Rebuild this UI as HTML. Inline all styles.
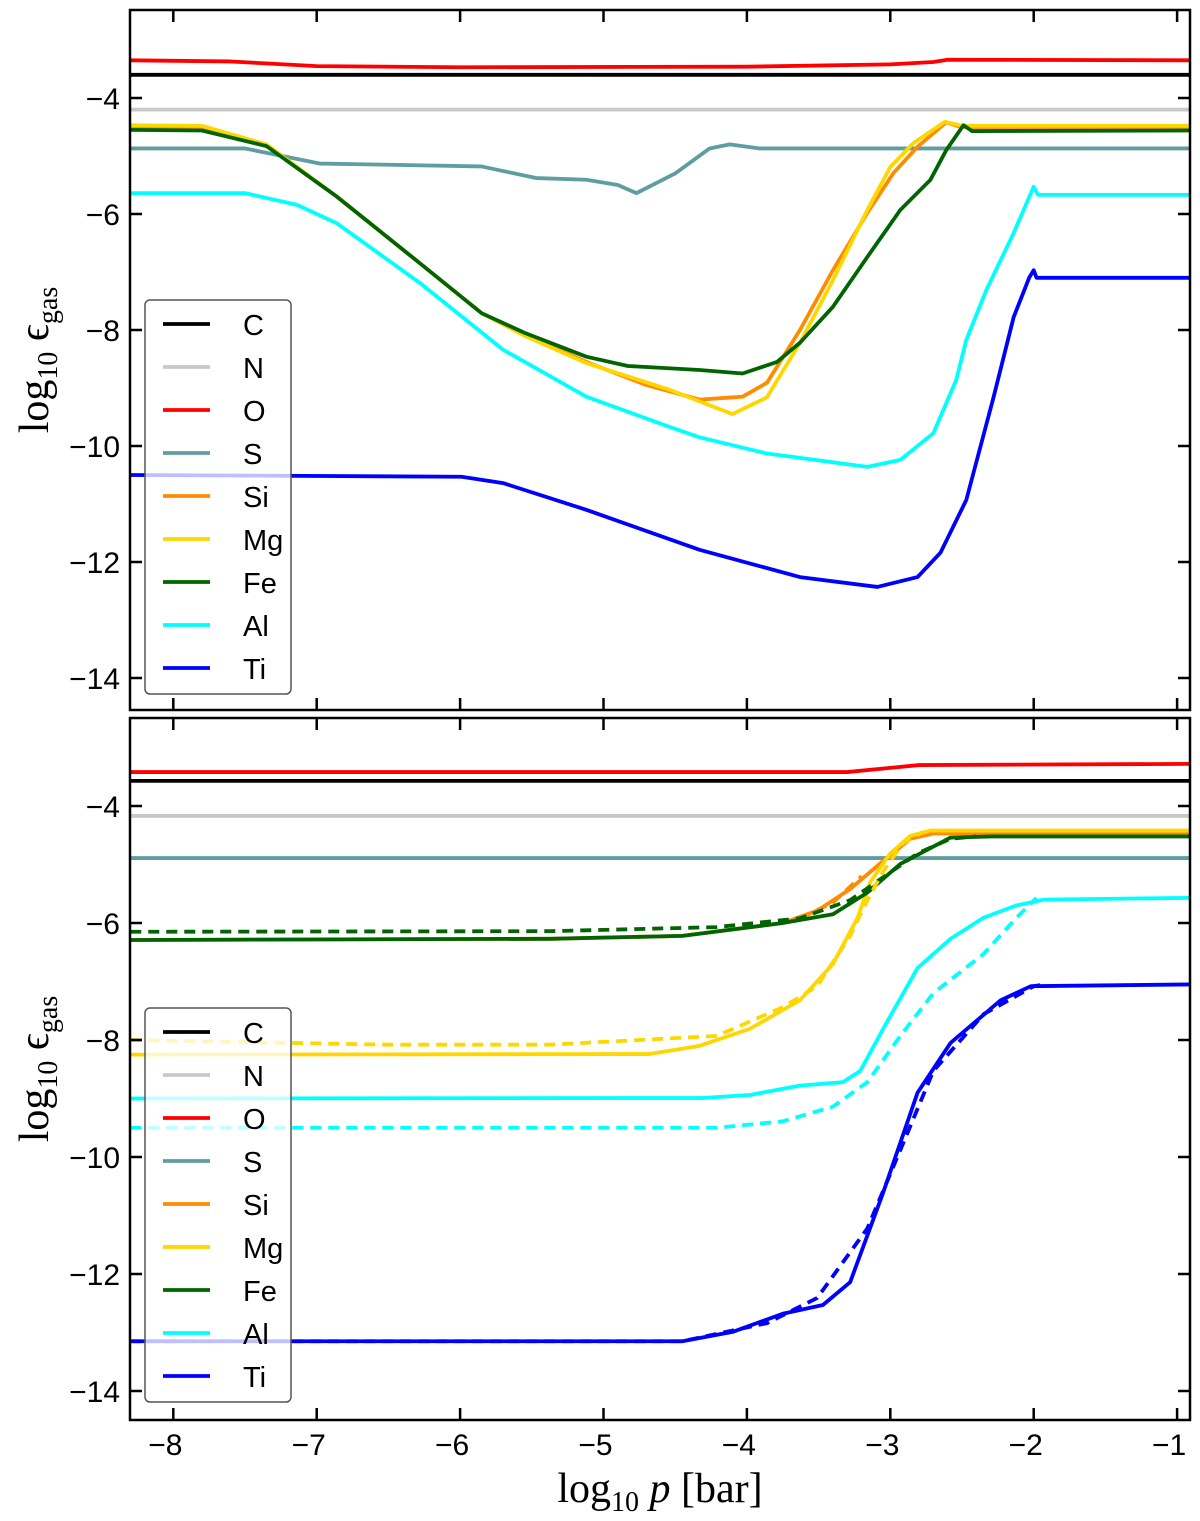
<!DOCTYPE html>
<html><head><meta charset="utf-8"><style>
body{margin:0;background:#fff}
svg{display:block}
text{font-family:"Liberation Sans",sans-serif}
</style></head><body>
<svg id="chart" width="1200" height="1521" viewBox="0 0 1200 1521"></svg>
<script>
const ticksX=[-8,-7,-6,-5,-4,-3,-2,-1];
const ticksY=[-4,-6,-8,-10,-12,-14];
const elements=["C","N","O","S","Si","Mg","Fe","Al","Ti"];
const colors={C:"#000",N:"#c8c8c8",O:"#ff0000",S:"#5f9ea0",Si:"#ff8c00",Mg:"#ffd700",Fe:"#006400",Al:"#00ffff",Ti:"#0000ff"};
// top panel series: [log p, log eps]
const topC=[[-8.3,-3.6],[-0.9,-3.6]];
const topN=[[-8.3,-4.2],[-0.9,-4.2]];
const topO=[[-8.3,-3.35],[-7.6,-3.37],[-7,-3.45],[-6,-3.47],[-4,-3.46],[-3,-3.42],[-2.7,-3.38],[-2.6,-3.34],[-0.9,-3.35]];
const topS=[[-8.3,-4.87],[-7.5,-4.87],[-6.98,-5.13],[-5.85,-5.18],[-5.47,-5.38],[-5.12,-5.41],[-4.9,-5.5],[-4.77,-5.64],[-4.5,-5.3],[-4.26,-4.87],[-4.12,-4.8],[-3.91,-4.87],[-0.9,-4.87]];
const topSi=[[-8.3,-4.49],[-7.8,-4.5],[-7.35,-4.81],[-6.86,-5.7],[-6.28,-6.85],[-5.85,-7.71],[-5.55,-8.08],[-5.12,-8.55],[-4.7,-8.95],[-4.33,-9.2],[-4.03,-9.15],[-3.86,-8.91],[-3.63,-8.0],[-3.4,-6.97],[-3.16,-5.98],[-2.98,-5.3],[-2.81,-4.84],[-2.61,-4.42],[-2.51,-4.5],[-0.9,-4.5]];
const topMg=[[-8.3,-4.47],[-7.8,-4.48],[-7.35,-4.8],[-6.86,-5.7],[-6.28,-6.85],[-5.85,-7.71],[-5.55,-8.1],[-5.12,-8.57],[-4.54,-9.03],[-4.1,-9.45],[-3.86,-9.16],[-3.63,-8.22],[-3.4,-7.14],[-3.16,-5.93],[-3.0,-5.19],[-2.84,-4.78],[-2.62,-4.41],[-2.5,-4.48],[-0.9,-4.48]];
const topFe=[[-8.3,-4.55],[-7.8,-4.56],[-7.35,-4.83],[-6.86,-5.7],[-6.28,-6.85],[-5.85,-7.71],[-5.55,-8.05],[-5.12,-8.46],[-4.83,-8.62],[-4.33,-8.69],[-4.03,-8.75],[-3.79,-8.55],[-3.63,-8.22],[-3.4,-7.6],[-3.16,-6.74],[-2.93,-5.93],[-2.72,-5.41],[-2.61,-4.9],[-2.49,-4.47],[-2.43,-4.57],[-0.9,-4.56]];
const topAl=[[-8.3,-5.64],[-7.5,-5.64],[-7.14,-5.84],[-6.86,-6.16],[-6.28,-7.19],[-5.7,-8.34],[-5.12,-9.15],[-4.54,-9.67],[-4.33,-9.85],[-3.86,-10.13],[-3.16,-10.36],[-2.93,-10.24],[-2.7,-9.78],[-2.54,-8.86],[-2.47,-8.17],[-2.33,-7.31],[-2.14,-6.33],[-2.0,-5.53],[-1.97,-5.67],[-0.9,-5.67]];
const topTi=[[-8.3,-10.5],[-5.99,-10.53],[-5.7,-10.64],[-5.12,-11.1],[-4.33,-11.79],[-3.63,-12.26],[-3.09,-12.43],[-2.81,-12.26],[-2.65,-11.84],[-2.47,-10.93],[-2.28,-9.16],[-2.14,-7.78],[-2.03,-7.09],[-2.0,-6.97],[-1.98,-7.1],[-0.9,-7.1]];
// bottom panel solid
const botC=[[-8.3,-3.57],[-0.9,-3.57]];
const botN=[[-8.3,-4.17],[-0.9,-4.17]];
const botO=[[-8.3,-3.42],[-3.3,-3.42],[-2.8,-3.3],[-0.9,-3.28]];
const botS=[[-8.3,-4.89],[-0.9,-4.89]];
const botSi=[[-8.3,-6.29],[-5.37,-6.27],[-4.45,-6.22],[-3.75,-6.0],[-3.51,-5.79],[-3.28,-5.42],[-3.05,-4.94],[-2.86,-4.56],[-2.7,-4.47],[-0.9,-4.47]];
const botMg=[[-8.3,-8.25],[-4.68,-8.24],[-4.33,-8.1],[-3.98,-7.81],[-3.63,-7.32],[-3.4,-6.7],[-3.23,-5.92],[-3.14,-5.3],[-3.0,-4.81],[-2.86,-4.51],[-2.72,-4.42],[-0.9,-4.42]];
const botFe=[[-8.3,-6.29],[-5.37,-6.27],[-4.45,-6.22],[-3.75,-6.0],[-3.4,-5.85],[-3.16,-5.48],[-2.93,-4.99],[-2.58,-4.54],[-2.3,-4.52],[-0.9,-4.52]];
const botAl=[[-8.3,-9.0],[-4.3,-8.99],[-3.98,-8.94],[-3.63,-8.78],[-3.33,-8.72],[-3.21,-8.53],[-3.05,-7.81],[-2.81,-6.77],[-2.58,-6.27],[-2.35,-5.91],[-2.12,-5.7],[-1.93,-5.6],[-0.9,-5.57]];
const botTi=[[-8.3,-13.15],[-4.45,-13.15],[-4.1,-12.99],[-3.75,-12.68],[-3.47,-12.53],[-3.28,-12.14],[-3.05,-10.61],[-2.81,-8.9],[-2.58,-8.05],[-2.23,-7.32],[-2.02,-7.08],[-0.9,-7.05]];
// bottom panel dashed
const dashSi=[[-3.63,-5.92],[-3.4,-5.65],[-3.2,-5.2]];
const dashFe=[[-8.3,-6.15],[-5.37,-6.14],[-4.21,-6.07],[-3.63,-5.92],[-3.28,-5.61],[-3.05,-5.22],[-2.81,-4.81],[-2.58,-4.56],[-2.4,-4.52]];
const dashMg=[[-8.3,-8.0],[-6.5,-8.08],[-5.37,-8.08],[-4.21,-7.93],[-3.75,-7.44],[-3.51,-7.08],[-3.28,-6.22],[-3.16,-5.61],[-3.05,-5.12],[-2.91,-4.63],[-2.77,-4.44]];
const dashAl=[[-8.3,-9.5],[-4.21,-9.5],[-3.75,-9.39],[-3.4,-9.14],[-3.16,-8.72],[-2.93,-7.93],[-2.7,-7.2],[-2.35,-6.53],[-2.12,-5.91],[-1.98,-5.57]];
const dashTi=[[-8.3,-13.15],[-4.45,-13.15],[-3.86,-12.84],[-3.51,-12.41],[-3.16,-11.22],[-2.93,-9.88],[-2.7,-8.53],[-2.35,-7.56],[-2.0,-7.08],[-1.95,-7.06]];

const NS="http://www.w3.org/2000/svg";
const svg=document.getElementById('chart');
function mk(t,a,p){const e=document.createElementNS(NS,t);for(const k in a)e.setAttribute(k,a[k]);(p||svg).appendChild(e);return e;}
const X0=130,X1=1190;
function sx(v){return 173.3+(v+8)*143.4;}
function panel(top,bottom,y4,yStep,name,solid,dashed){
  const g=mk('g',{});
  
  
  const sy=v=>y4+(-4-v)*yStep;
  const clipId='clip-'+name;
  const cp=mk('clipPath',{id:clipId},g);mk('rect',{x:X0,y:top,width:X1-X0,height:bottom-top},cp);
  const lines=mk('g',{'clip-path':'url(#'+clipId+')'},g);
  
  
  elements.forEach(el=>{
    const d=solid[el];if(!d)return;
    const p=mk('polyline',{points:d.map(q=>sx(q[0])+','+sy(q[1])).join(' '),fill:'none',stroke:colors[el],'stroke-width':3.8,'stroke-linejoin':'round'},lines);
    
    
  });
  for(const el in dashed){
    const d=dashed[el];
    const p=mk('polyline',{points:d.map(q=>sx(q[0])+','+sy(q[1])).join(' '),fill:'none',stroke:colors[el],'stroke-width':3.8,'stroke-dasharray':'11,7'},lines);
    
    
  }
  mk('rect',{x:X0,y:top,width:X1-X0,height:bottom-top,fill:'none',stroke:'#000','stroke-width':2.5},g);
  ticksX.forEach(t=>{const x=sx(t);mk('line',{x1:x,x2:x,y1:bottom,y2:bottom-12,stroke:'#000','stroke-width':2.5},g);mk('line',{x1:x,x2:x,y1:top,y2:top+12,stroke:'#000','stroke-width':2.5},g);});
  ticksY.forEach(t=>{const y=sy(t);mk('line',{x1:X0,x2:X0+12,y1:y,y2:y,stroke:'#000','stroke-width':2.5},g);mk('line',{x1:X1,x2:X1-12,y1:y,y2:y,stroke:'#000','stroke-width':2.5},g);
    const tx=mk('text',{x:X0-10,y:y+11,'text-anchor':'end','font-size':30},g);tx.textContent='\u2212'+(-t);
    });
  const yl=mk('text',{transform:'translate(48,'+((top+bottom)/2)+') rotate(-90)','text-anchor':'middle','font-size':42,style:'font-family:"Liberation Serif","DejaVu Serif",serif'},g);
  yl.innerHTML='log<tspan font-size="28" dy="9">10</tspan><tspan dy="-9"> \u03f5</tspan><tspan font-size="28" dy="9">gas</tspan>';
  
  // legend
  const lg=mk('g',{},g);
  const ly=top+290;
  mk('rect',{x:145,y:ly,width:146,height:394,rx:5,fill:'rgba(255,255,255,0.75)',stroke:'#555','stroke-width':1.5},lg);
  elements.forEach((el,i)=>{const yy=ly+24+i*43;
    const e=mk('g',{},lg);
    mk('line',{x1:163,x2:210,y1:yy,y2:yy,stroke:colors[el],'stroke-width':3.8},e);
    const t=mk('text',{x:243,y:yy+11,'font-size':29},e);t.textContent=el;});
}
panel(10,710,98,58,'top-panel',{C:topC,N:topN,O:topO,S:topS,Si:topSi,Mg:topMg,Fe:topFe,Al:topAl,Ti:topTi},{});
panel(718,1420,806,58.5,'bottom-panel',{C:botC,N:botN,O:botO,S:botS,Si:botSi,Mg:botMg,Fe:botFe,Al:botAl,Ti:botTi},{Si:dashSi,Fe:dashFe,Mg:dashMg,Al:dashAl,Ti:dashTi});
ticksX.forEach(t=>{const tx=mk('text',{x:sx(t)-8,y:1455,'text-anchor':'middle','font-size':30});tx.textContent='\u2212'+(-t);
  });
const xl=mk('text',{x:660,y:1502,'text-anchor':'middle','font-size':42,style:'font-family:"Liberation Serif",serif'});
xl.innerHTML='log<tspan font-size="28" dy="9">10</tspan><tspan dy="-9"> </tspan><tspan font-style="italic">p</tspan> [bar]';

</script>
</body></html>
